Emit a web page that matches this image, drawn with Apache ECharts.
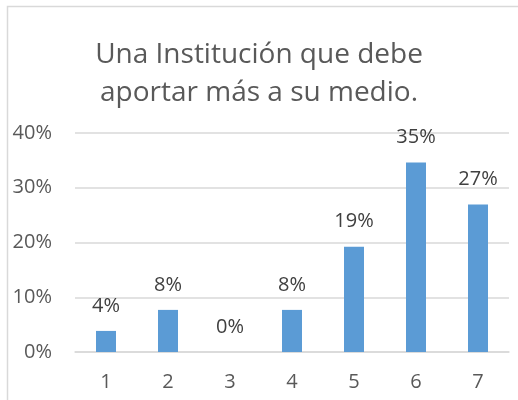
<!DOCTYPE html>
<html>
<head>
<meta charset="utf-8">
<script src="https://cdn.jsdelivr.net/npm/echarts@6/dist/echarts.min.js"></script>
<style>
  html, body { margin: 0; padding: 0; background: #fff; }
  #chart { width: 518px; height: 400px; }
</style>
</head>
<body>
<div id="chart"></div>
<script>
const categories = ['1', '2', '3', '4', '5', '6', '7']
// share of answers (26 responses)
const values = [0.0385, 0.0769, 0, 0.0769, 0.1923, 0.3462, 0.2692]
const titleLines = ['Una Institución que debe', 'aportar más a su medio.']

const chart = echarts.init(document.getElementById('chart'))
const font = '"Open Sans", sans-serif'

const option = {
  animation: false,
  title: {
    text: titleLines.join('\n'),
    left: 'center',
    top: 31,
    textStyle: {
      fontFamily: font,
      fontSize: 28,
      fontWeight: 'normal',
      color: '#595959',
      lineHeight: 38
    }
  },
  graphic: [
    {
      type: 'rect',
      shape: { x: 7.5, y: 6.5, width: 600, height: 500 },
      style: { fill: 'none', stroke: '#d9d9d9', lineWidth: 1.5 },
      silent: true
    }
  ],
  grid: { left: 75, right: 9, top: 133, bottom: 48 },
  xAxis: {
    type: 'category',
    data: categories,
    axisLine: { lineStyle: { color: '#d9d9d9', width: 1.5 } },
    axisTick: { show: false },
    axisLabel: { fontFamily: font, fontSize: 20, color: '#595959', margin: 20 }
  },
  yAxis: {
    type: 'value',
    min: 0,
    max: 0.4,
    interval: 0.1,
    axisLine: { show: false },
    axisTick: { show: false },
    splitLine: { lineStyle: { color: '#d9d9d9', width: 1.5 } },
    axisLabel: {
      fontFamily: font,
      fontSize: 20,
      color: '#595959',
      margin: 23,
      formatter: v => Math.round(v * 100) + '%'
    }
  },
  series: [
    {
      type: 'bar',
      data: values,
      barWidth: 20,
      itemStyle: { color: '#5b9bd5' },
      label: {
        show: true,
        position: 'top',
        distance: 15,
        fontFamily: font,
        fontSize: 20,
        color: '#404040',
        formatter: p => Math.round(p.value * 100) + '%'
      }
    }
  ]
}

chart.setOption(option)
</script>
</body>
</html>
